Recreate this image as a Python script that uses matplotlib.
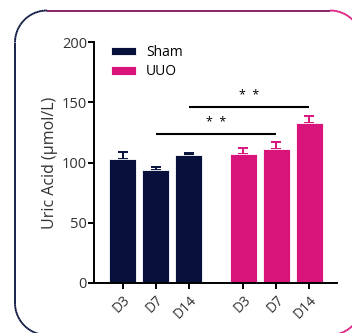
"""
Uric acid bar chart, Sham vs UUO
"""
import numpy as np
import matplotlib
matplotlib.use('Agg')
import matplotlib.pyplot as plt
from matplotlib.collections import LineCollection
from matplotlib.colors import to_rgb

# =============================================================================
# Data
# =============================================================================
days = ['D3', 'D7', 'D14']
sham_mean = [103, 94, 106]
sham_err = [6, 2.5, 2]
uuo_mean = [107, 111, 133]
uuo_err = [5, 6, 6]
# significance lines: (sham day, uuo day, height, label)
sig_pairs = [('D7', 'D7', 124, '*  *'),
             ('D14', 'D14', 146, '*  *')]

navy = '#07113b'
pink = '#d8137a'

plt.rcParams['font.family'] = ['Open Sans', 'DejaVu Sans']

W, H = 352, 333
fig = plt.figure(figsize=(W / 100, H / 100), dpi=100)

# =============================================================================
# Rounded gradient frame (pixel coords)
# =============================================================================
x0, x1, y0, y1, r = 15, 362, 10.5, 335, 32
pts = []
for cx, cy, a0 in [(x1 - r, y0 + r, -90), (x1 - r, y1 - r, 0),
                   (x0 + r, y1 - r, 90), (x0 + r, y0 + r, 180)]:
    for a in np.linspace(a0, a0 + 90, 30):
        pts.append((cx + r * np.cos(np.radians(a)), cy + r * np.sin(np.radians(a))))
pts.append(pts[0])
pts = np.array(pts)
fx = pts[:, 0] / W
fy = 1 - pts[:, 1] / H
segs = [[(fx[i], fy[i]), (fx[i + 1], fy[i + 1])] for i in range(len(fx) - 1)]
c0, c1 = np.array(to_rgb(navy)), np.array(to_rgb(pink))
cols = []
for i in range(len(fx) - 1):
    t = np.clip(((fx[i] + fx[i + 1]) / 2 * W - 40) / (300 - 40), 0, 1)
    cols.append(c0 * (1 - t) + c1 * t)
lc = LineCollection(segs, colors=cols, linewidths=1.3, transform=fig.transFigure)
fig.add_artist(lc)

# =============================================================================
# Bars
# =============================================================================
ax = fig.add_axes([94 / W, 1 - 283 / H, (337 - 94) / W, (283 - 42) / H])
gap = 1.65
sham_x = [float(i) for i in range(len(days))]
uuo_x = [i + gap + len(days) - 1 for i in range(len(days))]

for xs, m, e, c, lab in [(sham_x, sham_mean, sham_err, navy, 'Sham'),
                         (uuo_x, uuo_mean, uuo_err, pink, 'UUO')]:
    ax.bar(xs, m, width=0.82, color=c, edgecolor='white', linewidth=0.6, label=lab, zorder=2)
    ax.errorbar(xs, m, yerr=[np.zeros(len(e)), e], fmt='none', ecolor=c,
                elinewidth=1.4, capsize=3.5, capthick=1.4, zorder=1)

for a, b, h, lab in sig_pairs:
    xa = sham_x[days.index(a)]
    xb = uuo_x[days.index(b)]
    ax.plot([xa, xb], [h, h], color='black', lw=1.5, solid_capstyle='butt')
    ax.text((xa + xb) / 2, h + 4, lab, ha='center', va='bottom', fontsize=9)

ax.set_xlim(-0.87, 6.49)
ax.set_ylim(0, 200)
ax.set_yticks([0, 50, 100, 150, 200])
ax.set_xticks(sham_x + uuo_x)
ax.set_xticklabels(days + days, rotation=45, ha='right', rotation_mode='anchor', fontsize=10)
ax.tick_params(axis='y', labelsize=10.5, length=4, width=1.4, pad=1)
ax.tick_params(axis='x', length=4, width=1.4, pad=3)
ax.tick_params(colors='black', which='both', labelcolor='#333333')
for s in ['top', 'right']:
    ax.spines[s].set_visible(False)
for s in ['left', 'bottom']:
    ax.spines[s].set_linewidth(1.4)
    ax.spines[s].set_color('black')
ax.set_ylabel('Uric Acid (μmol/L)', fontsize=11.5, color='#333333', labelpad=3)
ax.legend(loc='upper left', bbox_to_anchor=(0.02, 1.04), frameon=False, fontsize=10,
          handlelength=1.8, handleheight=0.6, labelspacing=0.3, handletextpad=0.7)

fig.savefig('out.png', dpi=100)
